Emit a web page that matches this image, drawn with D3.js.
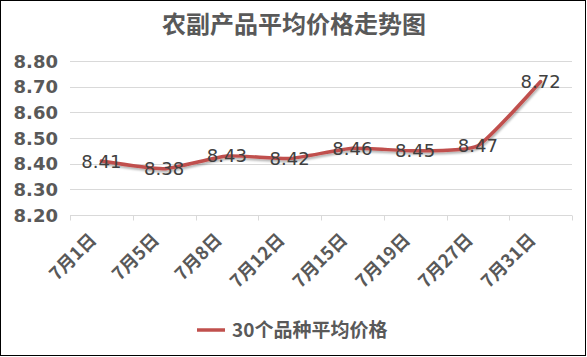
<!DOCTYPE html>
<html><head><meta charset="utf-8">
<script src="https://cdn.jsdelivr.net/npm/d3@7/dist/d3.min.js"></script>
<style>html,body{margin:0;padding:0;background:#fff;}svg{display:block;}</style>
</head><body>
<script>
const categories = ["7月1日","7月5日","7月8日","7月12日","7月15日","7月19日","7月27日","7月31日"];
const values = [8.41, 8.38, 8.43, 8.42, 8.46, 8.45, 8.47, 8.72];
const yTicks = [8.20, 8.30, 8.40, 8.50, 8.60, 8.70, 8.80];
const seriesName = "30个品种平均价格";
const title = "农副产品平均价格走势图";

(function(){
const W = 587, H = 357;
const svg = d3.select("body").append("svg").attr("width", W).attr("height", H);
const defs = svg.append("defs");
const f = defs.append("filter").attr("id","sh").attr("x","-10%").attr("y","-10%").attr("width","120%").attr("height","140%");
f.append("feDropShadow").attr("dx",1).attr("dy",2).attr("stdDeviation",1.2).attr("flood-color","#000").attr("flood-opacity",0.3);

svg.append("rect").attr("x",0.5).attr("y",0.5).attr("width",W-2).attr("height",H-2)
  .attr("fill","#fff").attr("stroke","#000").attr("stroke-width",1);

const pLeft = 70, pRight = 572, pTop = 61, pBottom = 215;
const x = d3.scaleBand().domain(categories).range([pLeft, pRight]);
const y = d3.scaleLinear().domain([8.20, 8.80]).range([pBottom, pTop]);
const font = "'Noto Sans CJK SC','DejaVu Sans',sans-serif";

svg.append("text").attr("x", 294).attr("y", 33).attr("text-anchor","middle")
  .attr("font-family", font).attr("font-weight","bold").attr("font-size", 24).attr("fill","#595959").text(title);

svg.append("g").selectAll("line").data(yTicks.slice(1)).join("line")
  .attr("x1", pLeft).attr("x2", pRight).attr("y1", d=>Math.round(y(d))+0.5).attr("y2", d=>Math.round(y(d))+0.5)
  .attr("stroke","#d9d9d9").attr("stroke-width",1);

svg.append("g").selectAll("text").data(yTicks).join("text")
  .attr("x", 58).attr("y", d=>y(d)+6.5).attr("text-anchor","end")
  .attr("font-family","'DejaVu Sans',sans-serif").attr("font-weight","bold").attr("font-size",18)
  .attr("fill","#595959").text(d=>d.toFixed(2));

const xa = svg.append("g").attr("transform",`translate(0,${pBottom+0.5})`);
xa.append("line").attr("x1",pLeft).attr("x2",pRight).attr("stroke","#d9d9d9");
const bounds = categories.map(c=>x(c)).concat([pRight]);
xa.selectAll("line.t").data(bounds).join("line").attr("class","t")
  .attr("x1",d=>Math.round(d)+0.5).attr("x2",d=>Math.round(d)+0.5).attr("y1",0).attr("y2",5)
  .attr("stroke","#d9d9d9");
svg.append("g").selectAll("text").data(categories).join("text")
  .attr("transform", d=>`translate(${x(d)+x.bandwidth()/2-4},${pBottom+26}) rotate(-45)`)
  .attr("text-anchor","end").attr("font-family",font).attr("font-weight","bold")
  .attr("font-size",18).attr("fill","#595959").text(d=>d);

const line = d3.line().x((d,i)=>x(categories[i])+x.bandwidth()/2).y(d=>y(d)).curve(d3.curveCardinal.tension(0.5));
svg.append("path").datum(values).attr("d", line).attr("fill","none").attr("filter","url(#sh)")
  .attr("stroke","#c0504d").attr("stroke-width",3.5).attr("stroke-linejoin","round").attr("stroke-linecap","round");

svg.append("g").selectAll("text").data(values).join("text")
  .attr("x",(d,i)=>x(categories[i])+x.bandwidth()/2).attr("y",d=>y(d)+6.5)
  .attr("text-anchor","middle").attr("font-family","'DejaVu Sans',sans-serif")
  .attr("font-size",18).attr("fill","#404040").text(d=>d.toFixed(2));

svg.append("line").attr("x1",197).attr("x2",225).attr("y1",330).attr("y2",330)
  .attr("stroke","#c0504d").attr("stroke-width",3.5);
svg.append("text").attr("x",232).attr("y",337).attr("font-family",font).attr("font-weight","bold")
  .attr("font-size",19).attr("fill","#595959").text(seriesName);
})();
</script>
</body></html>
